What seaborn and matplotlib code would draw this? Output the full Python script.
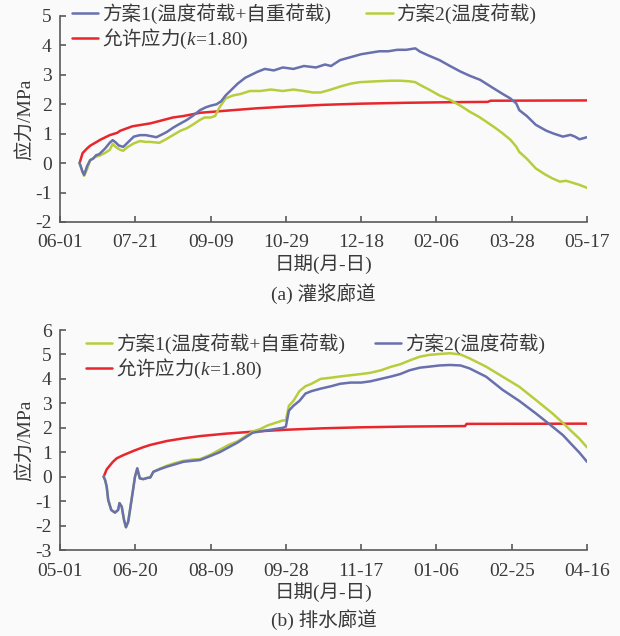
import matplotlib
matplotlib.use('Agg')
import matplotlib.pyplot as plt
import pandas as pd
import seaborn as sns

# ---- (a) 灌浆廊道, x = days after 06-01 ----
ticks_a = ['06-01', '07-21', '09-09', '10-29', '12-18', '02-06', '03-28', '05-17']

day_a1 = [13, 15, 16, 18, 20, 22, 24, 26, 28, 30, 33, 35, 37, 39, 42, 45, 49, 53, 57, 60,
          64, 68, 71, 75, 78, 84, 88, 93, 97, 100, 104, 107, 110, 114, 118, 123, 127, 131,
          136, 142, 148, 155, 162, 170, 176, 180, 186, 193, 200, 206, 212, 218, 224, 230,
          236, 239, 245, 252, 259, 266, 272, 279, 288, 294, 299, 303, 305, 310, 316, 323,
          328, 334, 339, 342, 345, 350]
val_a1 = [0.0, -0.3, -0.4, -0.1, 0.1, 0.15, 0.27, 0.3, 0.4, 0.5, 0.69, 0.78, 0.7, 0.6, 0.55,
          0.7, 0.9, 0.95, 0.95, 0.92, 0.88, 0.98, 1.06, 1.2, 1.29, 1.46, 1.6, 1.8, 1.9, 1.95,
          2.0, 2.1, 2.3, 2.5, 2.7, 2.9, 3.0, 3.1, 3.2, 3.15, 3.25, 3.2, 3.3, 3.25, 3.35, 3.3,
          3.5, 3.6, 3.7, 3.75, 3.8, 3.8, 3.85, 3.85, 3.9, 3.79, 3.65, 3.5, 3.3, 3.11, 2.97,
          2.83, 2.54, 2.35, 2.2, 2.03, 1.8, 1.6, 1.3, 1.1, 1.0, 0.9, 0.96, 0.9, 0.81, 0.88]

day_a2 = [13, 15, 16, 18, 20, 23, 27, 30, 33, 35, 37, 40, 42, 45, 49, 53, 57, 60, 64, 66,
          70, 75, 80, 84, 88, 93, 96, 100, 103, 106, 110, 115, 120, 126, 133, 140, 148, 155,
          162, 168, 173, 180, 186, 193, 199, 210, 220, 226, 232, 236, 239, 245, 252, 259,
          266, 272, 278, 283, 289, 294, 299, 303, 305, 310, 316, 322, 327, 332, 336, 340,
          345, 350]
val_a2 = [0.0, -0.3, -0.43, -0.2, 0.1, 0.2, 0.27, 0.35, 0.45, 0.65, 0.55, 0.45, 0.42, 0.55,
          0.67, 0.75, 0.72, 0.72, 0.7, 0.69, 0.8, 0.95, 1.1, 1.18, 1.3, 1.47, 1.55, 1.55, 1.6,
          1.9, 2.2, 2.3, 2.35, 2.45, 2.45, 2.5, 2.45, 2.5, 2.45, 2.4, 2.4, 2.5, 2.6, 2.7,
          2.75, 2.78, 2.8, 2.8, 2.78, 2.75, 2.66, 2.5, 2.3, 2.15, 1.95, 1.75, 1.58, 1.41,
          1.2, 1.01, 0.8, 0.56, 0.38, 0.15, -0.18, -0.38, -0.52, -0.63, -0.6, -0.66, -0.74,
          -0.84]

day_ar = [13, 15, 18, 20, 22, 27, 33, 38, 40, 48, 60, 75, 82, 93, 110, 130, 150, 175, 200,
          230, 260, 284, 286, 350]
val_ar = [0.0, 0.34, 0.5, 0.59, 0.65, 0.8, 0.95, 1.03, 1.1, 1.25, 1.35, 1.55, 1.6, 1.71,
          1.78, 1.86, 1.92, 1.98, 2.02, 2.05, 2.07, 2.08, 2.12, 2.13]

# ---- (b) 排水廊道, x = days after 05-01 ----
ticks_b = ['05-01', '06-20', '08-09', '09-28', '11-17', '01-06', '02-25', '04-16']

day_b2 = [29, 30, 31, 32, 34, 36.5, 38.6, 39.5, 41, 42.5, 43.8, 45.3, 47.5, 49.8, 51.3, 53,
          55.3, 58, 60, 62, 66, 71, 76, 82, 88, 93, 100, 106, 112, 118, 123, 128, 133, 138,
          143, 148, 150, 152, 155, 159, 163, 167, 173, 180, 186, 193, 200, 206, 213, 220,
          226, 232, 239, 245, 252, 259, 266, 272, 283, 294, 305, 316, 327, 334, 339, 345, 350]
val_b2 = [0.0, -0.15, -0.41, -0.95, -1.36, -1.47, -1.36, -1.08, -1.23, -1.77, -2.07, -1.84,
          -0.95, 0.0, 0.34, -0.07, -0.1, -0.05, -0.03, 0.2, 0.3, 0.41, 0.5, 0.61, 0.65, 0.68,
          0.85, 1.0, 1.2, 1.4, 1.6, 1.8, 1.85, 1.9, 1.95, 2.0, 2.05, 2.7, 2.9, 3.1, 3.4, 3.5,
          3.6, 3.7, 3.8, 3.85, 3.85, 3.9, 4.0, 4.1, 4.2, 4.35, 4.46, 4.5, 4.55, 4.57, 4.55,
          4.43, 4.09, 3.55, 3.1, 2.59, 2.05, 1.7, 1.37, 0.98, 0.61]

day_b1 = [29, 30, 31, 32, 34, 36.5, 38.6, 39.5, 41, 42.5, 43.8, 45.3, 47.5, 49.8, 51.3, 53,
          55.3, 58, 60, 62, 66, 71, 76, 82, 88, 93, 100, 106, 112, 118, 123, 128, 133, 138,
          143, 148, 150, 152, 155, 159, 163, 167, 173, 180, 186, 193, 200, 206, 213, 220,
          226, 232, 239, 245, 252, 259, 266, 272, 283, 294, 305, 316, 327, 334, 339, 345, 350]
val_b1 = [0.0, -0.15, -0.41, -0.95, -1.36, -1.47, -1.36, -1.08, -1.23, -1.77, -2.07, -1.84,
          -0.95, 0.0, 0.34, -0.07, -0.1, -0.05, -0.03, 0.2, 0.32, 0.45, 0.55, 0.65, 0.7, 0.72,
          0.9, 1.1, 1.3, 1.45, 1.65, 1.85, 1.95, 2.1, 2.2, 2.3, 2.3, 2.9, 3.1, 3.5, 3.7, 3.8,
          4.0, 4.05, 4.1, 4.15, 4.2, 4.25, 4.35, 4.5, 4.6, 4.75, 4.91, 4.98, 5.02, 5.05, 5.0,
          4.84, 4.5, 4.09, 3.68, 3.14, 2.59, 2.2, 1.9, 1.55, 1.2]

day_br = [29, 31, 33, 35, 37.6, 42, 49, 55, 60, 71, 82, 93, 110, 130, 150, 175, 200, 230,
          269, 270, 350]
val_br = [0.0, 0.3, 0.45, 0.6, 0.75, 0.88, 1.06, 1.2, 1.3, 1.46, 1.57, 1.66, 1.76, 1.85,
          1.92, 1.98, 2.02, 2.05, 2.07, 2.16, 2.17]

lab1 = '方案1(温度荷载+自重荷载)'
lab2 = '方案2(温度荷载)'
labr = '允许应力$(k\\!=\\!1.80)$'

BLUE = '#6870ad'
GREEN = '#b7cd3c'
RED = '#e8262c'
GRAY = '#5a5a5a'
TXT = '#3a3a3a'

sns.set_style('ticks')
plt.rcParams['font.family'] = ['Liberation Serif', 'Noto Sans CJK SC']
plt.rcParams['mathtext.fontset'] = 'custom'
plt.rcParams['mathtext.rm'] = 'Liberation Serif'
plt.rcParams['mathtext.it'] = 'Liberation Serif:italic'

fig = plt.figure(figsize=(6.2, 6.36), dpi=100, facecolor='#fafafa')
ax1 = fig.add_axes([0.0968, 0.651, 0.85, 0.3239])
ax2 = fig.add_axes([0.0968, 0.1352, 0.85, 0.3459])


def style_axes(ax, ylim, yticks, xlabels):
    ax.set_facecolor('#fafafa')
    ax.set_xlim(0, 350)
    ax.set_ylim(*ylim)
    ax.set_xticks(range(0, 351, 50))
    ax.set_xticklabels(xlabels)
    ax.set_yticks(yticks)
    ax.set_yticklabels([str(v) for v in yticks])
    sns.despine(ax=ax)
    for s in ['left', 'bottom']:
        ax.spines[s].set_color(GRAY)
        ax.spines[s].set_linewidth(1.2)
    ax.tick_params(direction='in', length=4, width=1.2, color=GRAY,
                   labelsize=14, labelcolor=TXT, pad=6)
    ax.tick_params(axis='x', pad=9)
    ax.set_xlabel('日期(月-日)', fontsize=14, color=TXT, labelpad=2)
    ax.set_ylabel('应力/MPa', fontsize=14, color=TXT, labelpad=0)


def legend(ax, handles, x, y, colsp):
    leg = ax.legend(handles=handles, ncol=2, loc='upper left', bbox_to_anchor=(x, y),
                    frameon=False, fontsize=14, handlelength=1.35, handletextpad=0.2,
                    labelspacing=0.15, columnspacing=colsp, borderpad=0, borderaxespad=0)
    for t in leg.get_texts():
        t.set_color(TXT)
        if '$' in t.get_text():
            t.set_fontfamily('Noto Sans CJK SC')


# panel (a)
sns.lineplot(x=day_ar, y=val_ar, ax=ax1, color=RED, lw=1.8, label=labr)
sns.lineplot(x=day_a2, y=val_a2, ax=ax1, color=GREEN, lw=1.8, label=lab2)
sns.lineplot(x=day_a1, y=val_a1, ax=ax1, color=BLUE, lw=1.8, label=lab1)
style_axes(ax1, (-2, 5), list(range(-2, 6)), ticks_a)
h = {l.get_label(): l for l in ax1.get_lines()}
legend(ax1, [h[lab1], h[labr], h[lab2]], 0.023, 1.06, 1.8)

# panel (b)
sns.lineplot(x=day_br, y=val_br, ax=ax2, color=RED, lw=1.8, label=labr)
sns.lineplot(x=day_b1, y=val_b1, ax=ax2, color=GREEN, lw=1.8, label=lab1)
sns.lineplot(x=day_b2, y=val_b2, ax=ax2, color=BLUE, lw=1.8, label=lab2)
style_axes(ax2, (-3, 6), list(range(-3, 7)), ticks_b)
h = {l.get_label(): l for l in ax2.get_lines()}
legend(ax2, [h[lab1], h[labr], h[lab2]], 0.049, 0.986, 1.55)

cx = 0.0968 + 0.85 / 2
fig.text(cx, 1 - 294 / 636, '(a) 灌浆廊道', ha='center', va='center', fontsize=14, color=TXT)
fig.text(cx, 1 - 620 / 636, '(b) 排水廊道', ha='center', va='center', fontsize=14, color=TXT)

fig.savefig('out.png', dpi=100, facecolor=fig.get_facecolor())
